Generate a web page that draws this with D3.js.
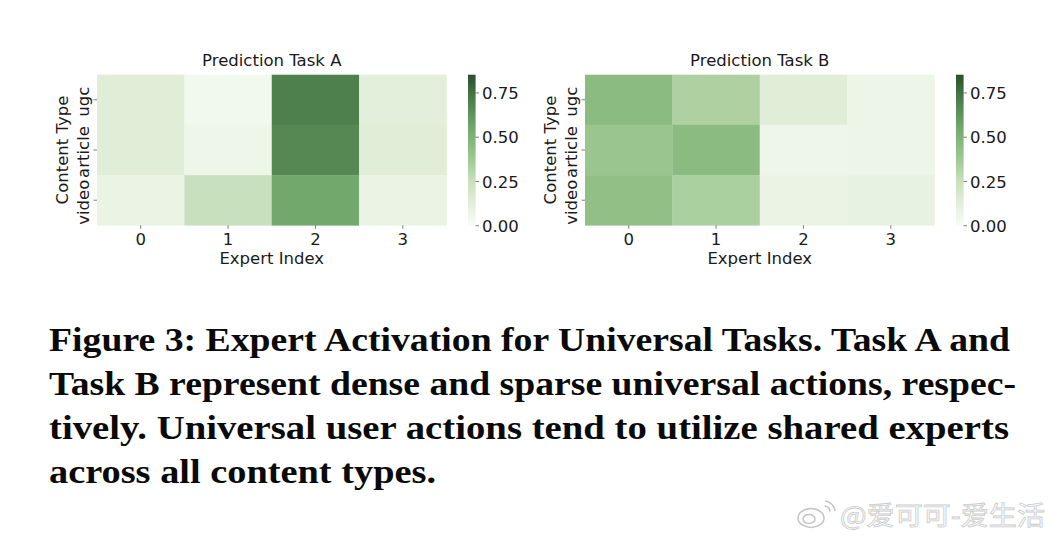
<!DOCTYPE html>
<html><head><meta charset="utf-8">
<script src="https://cdn.jsdelivr.net/npm/d3@7"></script>
<style>html,body{margin:0;padding:0;background:#fff}svg{display:block}</style></head>
<body><svg id="c" width="1056" height="538"></svg>
<script>
const experts=[0,1,2,3];
const contentTypes=["ugc","article","video"];
const taskAValues=[[0.12,0.03,0.70,0.11],[0.12,0.05,0.67,0.12],[0.07,0.23,0.55,0.07]];
const taskBValues=[[0.45,0.32,0.12,0.06],[0.39,0.45,0.05,0.06],[0.43,0.33,0.07,0.08]];
const colorTicks=[0,0.25,0.5,0.75];
const colorDomain=[0,0.12,0.25,0.35,0.5,0.6,0.72,0.85];
const colorRange=["#f7fbf5","#e0eed8","#c5deba","#a5cc98","#7fb377","#649c62","#4a7a49","#2c4f2f"];
const captionLines=["Figure 3: Expert Activation for Universal Tasks. Task A and","Task B represent dense and sparse universal actions, respec-","tively. Universal user actions tend to utilize shared experts","across all content types."];
const captionWidths=[961,967,960,387];
const panels=[{title:"Prediction Task A",values:taskAValues,x0:97,cb:468},{title:"Prediction Task B",values:taskBValues,x0:585,cb:956}];

const svg=d3.select("#c");
const color=d3.scaleLinear().domain(colorDomain).range(colorRange);
const font="'DejaVu Sans',sans-serif", ink="#1a1a1a", fs=16.5;
const plotTop=74.7,h=150.6,w=349.5;
panels.forEach(p=>{
  const g=svg.append("g");
  const x=d3.scaleBand().domain(experts).range([p.x0,p.x0+w]);
  const y=d3.scaleBand().domain(contentTypes).range([plotTop,plotTop+h]);
  contentTypes.forEach((c,r)=>experts.forEach((e,i)=>{
    g.append("rect").attr("x",x(e)).attr("y",y(c)).attr("width",x.bandwidth()+.3).attr("height",y.bandwidth()+.3).attr("fill",color(p.values[r][i]));
  }));
  const ax=g.append("g").attr("transform",`translate(0,${plotTop+h})`).call(d3.axisBottom(x).tickSize(3.5).tickPadding(4));
  const ay=g.append("g").attr("transform",`translate(${p.x0},0)`).call(d3.axisLeft(y).tickSize(3.5).tickPadding(3));
  [ax,ay].forEach(a=>{a.select(".domain").remove();a.selectAll("line").attr("stroke","#444").attr("stroke-width",.7);a.selectAll("text").attr("font-family",font).attr("font-size",fs).attr("fill",ink);});
  ay.selectAll("text").attr("text-anchor","middle").attr("dy",0).attr("x",0).attr("y",0).attr("transform","translate(-8,2) rotate(-90)");
  g.append("text").attr("x",p.x0+w/2).attr("y",65.5).attr("text-anchor","middle").attr("font-family",font).attr("font-size",fs).attr("fill",ink).text(p.title);
  g.append("text").attr("x",p.x0+w/2).attr("y",263.5).attr("text-anchor","middle").attr("font-family",font).attr("font-size",fs).attr("fill",ink).text("Expert Index");
  g.append("text").attr("transform",`translate(${p.x0-29.5},${plotTop+h/2}) rotate(-90)`).attr("text-anchor","middle").attr("font-family",font).attr("font-size",fs).attr("fill",ink).text("Content Type");
  const cy=d3.scaleLinear().domain([0,0.85]).range([plotTop+h,plotTop]);
  const steps=d3.range(0,0.85,0.85/150);
  g.append("g").selectAll("rect").data(steps).join("rect").attr("x",p.cb).attr("width",7.5).attr("y",d=>cy(d+0.85/150)).attr("height",h/150+.4).attr("fill",d=>color(d));
  const cax=g.append("g").attr("transform",`translate(${p.cb+7.5},0)`).call(d3.axisRight(cy).tickValues(colorTicks).tickFormat(d3.format(".2f")).tickSize(3.5).tickPadding(3));
  cax.select(".domain").remove();cax.selectAll("line").attr("stroke","#444").attr("stroke-width",.7);
  cax.selectAll("text").attr("font-family",font).attr("font-size",fs).attr("fill",ink).attr("y",0.8);
});
captionLines.forEach((t,i)=>{
  svg.append("text").attr("x",49).attr("y",351+i*44).attr("font-family","'Liberation Serif',serif").attr("font-weight",700).attr("font-size",34).attr("fill","#0a0a0a")
    .attr("textLength",captionWidths[i]).attr("lengthAdjust","spacingAndGlyphs").text(t);
});
svg.append("text").attr("x",840).attr("y",525).attr("textLength",205).attr("lengthAdjust","spacingAndGlyphs").attr("font-family","'Noto Sans CJK SC','DejaVu Sans',sans-serif").attr("font-size",26).attr("fill","#fff").attr("stroke","#cccccc").attr("stroke-width",.8).text("@爱可可-爱生活");
const wb=svg.append("g").attr("fill","none").attr("stroke","#c4c4c4").attr("stroke-width",1.5);
wb.append("ellipse").attr("cx",811).attr("cy",518).attr("rx",13).attr("ry",9.5);
wb.append("ellipse").attr("cx",809).attr("cy",519).attr("rx",6).attr("ry",4.5);
wb.append("path").attr("d",d3.arc()({innerRadius:6,outerRadius:6,startAngle:0.1,endAngle:1.5})).attr("transform","translate(824,512)");
wb.append("path").attr("d",d3.arc()({innerRadius:11,outerRadius:11,startAngle:0.1,endAngle:1.5})).attr("transform","translate(824,512)");
</script></body></html>
